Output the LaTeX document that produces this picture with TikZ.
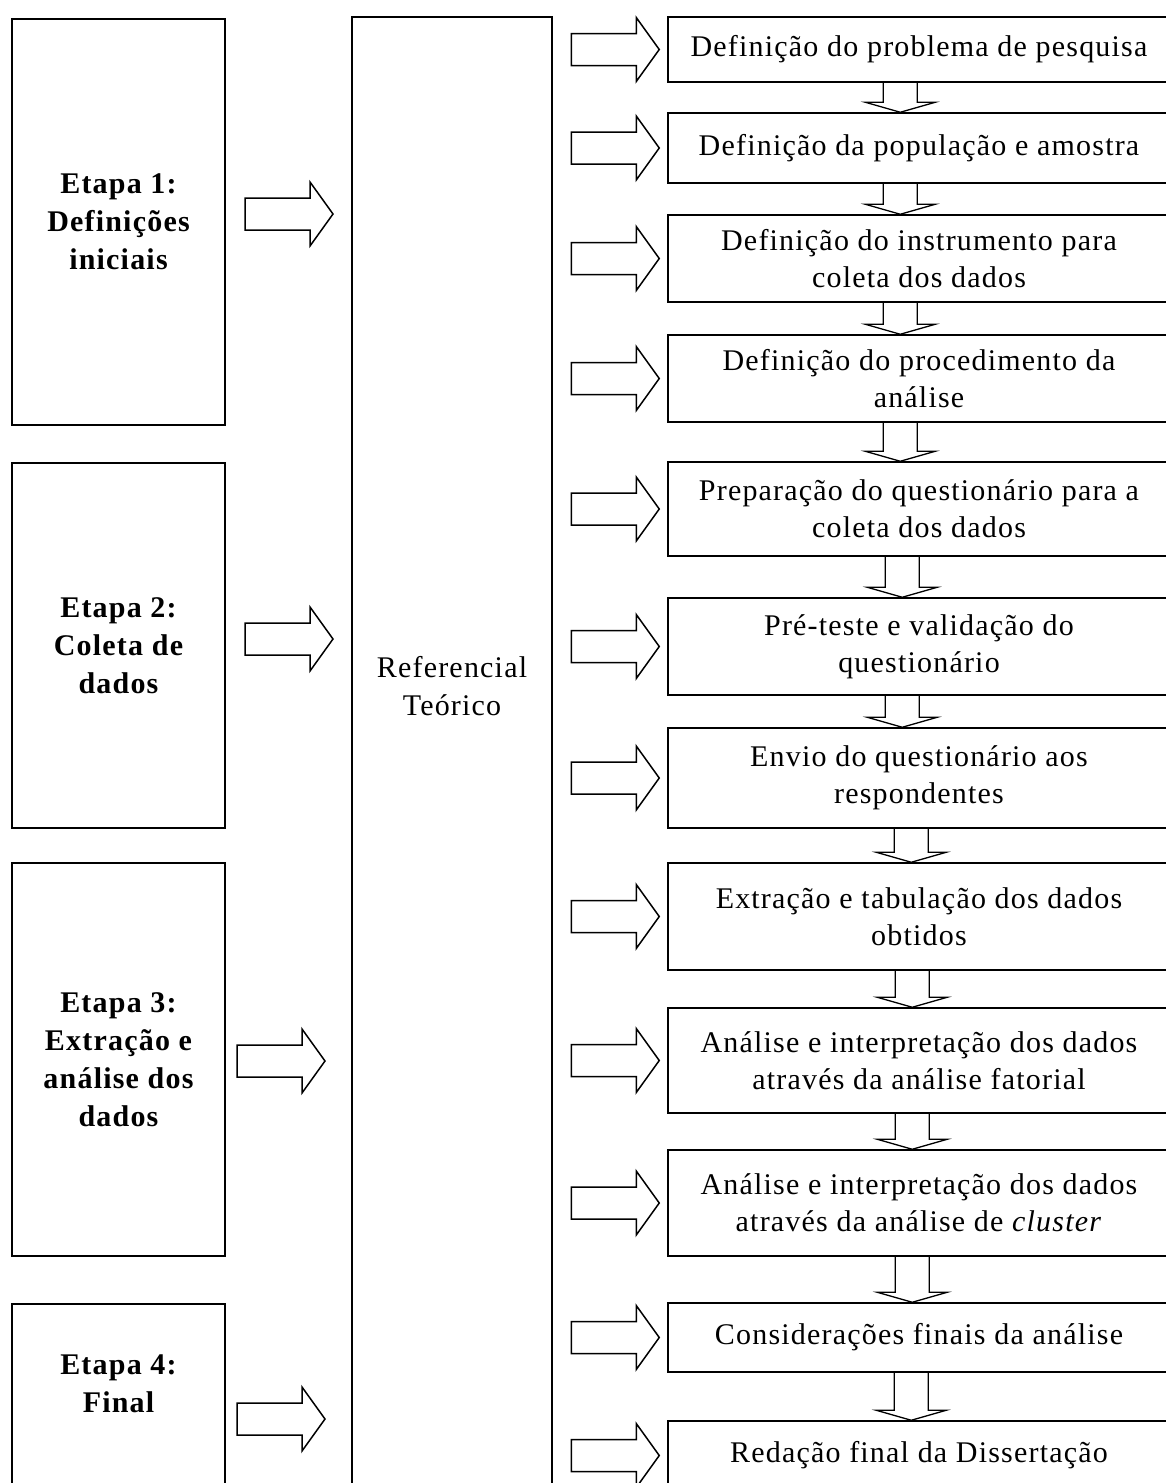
\documentclass[tikz,border=0pt]{standalone}
\usepackage{fontspec}
\setmainfont{Liberation Serif}[LetterSpace=4]
\usetikzlibrary{positioning,calc}
\tikzset{
  ln/.style={draw=black,line width=1.5pt},
  stagebox/.style={ln,align=center,font=\bfseries\fontsize{30}{38}\selectfont,minimum width=213pt,inner sep=0pt},
  refbox/.style={ln,minimum width=200pt,inner sep=0pt},
  stepbox/.style={ln,align=center,font=\fontsize{30}{37}\selectfont,minimum width=502pt,inner sep=0pt},
  hollowarr/.pic={\draw[ln] (0,-16)--(65,-16)--(65,-32)--(88,0)--(65,32)--(65,16)--(0,16)--cycle;}
}

\begin{document}
\begin{tikzpicture}[x=1pt,y=-1pt,
 txt/.style={align=center,inner sep=0pt},
 dn/.style={ln,line width=1.3pt}]
\useasboundingbox (0,0) rectangle (1166,1483);
\clip (0,0) rectangle (1166,1483);
% etapas
\node[stagebox,minimum height=406pt] (e1) at (118.5,222) {Etapa 1:\\Definições\\iniciais};
\node[stagebox,minimum height=365pt] (e2) at (118.5,645.5) {Etapa 2:\\Coleta de\\dados};
\node[stagebox,minimum height=393pt] (e3) at (118.5,1059.5) {Etapa 3:\\Extração e\\análise dos\\dados};
\node[stagebox,minimum height=216pt] (e4) at (118.5,1412) {};
\node[stagebox,draw=none] (e4t) at (118.5,1384) {Etapa 4:\\Final};
% referencial
\node[refbox,minimum height=1503pt] (ref) at (452,768.5) {};
\node[txt,font=\fontsize{30}{38}\selectfont] (reft) at (452,686) {Referencial\\Teórico};
% passos
\node[stepbox,minimum height=65pt] (b1) at (919,49.5) {Definição do problema de pesquisa};
\node[stepbox,minimum height=70pt] (b2) at (919,148) {Definição da população e amostra};
\node[stepbox,minimum height=87pt] (b3) at (919,258.5) {Definição do instrumento para\\coleta dos dados};
\node[stepbox,minimum height=87pt] (b4) at (919,378.5) {Definição do procedimento da\\análise};
\node[stepbox,minimum height=94pt] (b5) at (919,509) {Preparação do questionário para a\\coleta dos dados};
\node[stepbox,minimum height=97pt] (b6) at (919,646.5) {Pré-teste e validação do\\questionário};
\node[stepbox,minimum height=100pt] (b7) at (919,778) {Envio do questionário aos\\respondentes};
\node[stepbox,minimum height=107pt] (b8) at (919,916.5) {Extração e tabulação dos dados\\obtidos};
\node[stepbox,minimum height=105pt] (b9) at (919,1060.5) {Análise e interpretação dos dados\\através da análise fatorial};
\node[stepbox,minimum height=106pt] (b10) at (919,1203) {Análise e interpretação dos dados\\através da análise de \textit{cluster}};
\node[stepbox,minimum height=69pt] (b11) at (919,1337.5) {Considerações finais da análise};
\node[stepbox,minimum height=69pt] (b12) at (919,1455.5) {Redação final da Dissertação};
% setas grandes
\pic at (245,214) {hollowarr};
\pic at (245,639) {hollowarr};
\pic at (237,1061) {hollowarr};
\pic at (237,1419) {hollowarr};
\foreach \b in {b1,b2,b3,b4,b5,b6,b7,b8,b9,b10,b11,b12}
  \pic at ([xshift=-96pt]\b.west) {hollowarr};
% setas entre passos
\foreach \u/\v/\o in {b1/b2/233,b2/b3/233,b3/b4/233,b4/b5/233,b5/b6/235,b6/b7/235,
  b7/b8/244,b8/b9/245,b9/b10/245,b10/b11/245,b11/b12/244}
  \draw[dn] ($(\u.south west)+(\o-17,0)$)--($(\v.north west)+(\o-17,-10)$)--++(-18,0)
    --($(\v.north west)+(\o,0)$)--($(\v.north west)+(\o+35,-10)$)--++(-18,0)
    --($(\u.south west)+(\o+17,0)$);
\end{tikzpicture}
\end{document}
